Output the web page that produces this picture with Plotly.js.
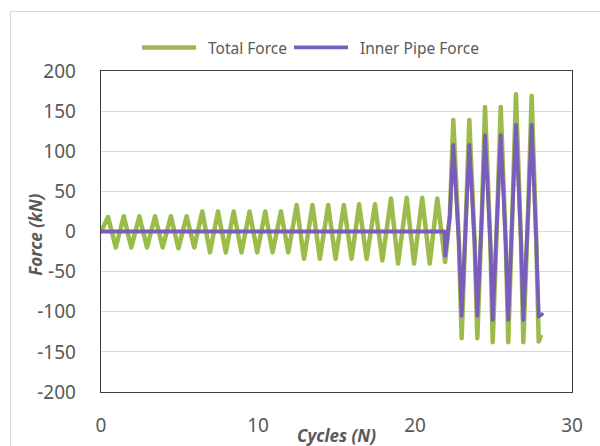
<!DOCTYPE html>
<html>
<head>
<meta charset="utf-8">
<script src="https://cdn.plot.ly/plotly-3.0.1.min.js"></script>
<style>
  html, body { margin: 0; padding: 0; background: #ffffff; overflow: hidden; }
  #chart { position: absolute; left: 0; top: 0; width: 600px; height: 446px; }
  #frame { position: absolute; left: 10px; top: 11px; width: 640px; height: 480px;
           border: 1px solid #d9d9d9; pointer-events: none; }
  /* rounded corners at the turning points of the force traces */
  #chart .scatterlayer path.js-line { stroke-linejoin: round; stroke-linecap: round; }
</style>
</head>
<body>
<div id="chart"></div>
<div id="frame"></div>
<script>
// Cycle positions (N) and force values (kN) for the total force trace
const totalCycles = [
  0, 0.45, 0.94, 1.45, 1.93, 2.44, 2.93, 3.44, 3.93, 4.45, 4.93, 5.45, 5.94,
  6.45, 6.94, 7.45, 7.95, 8.45, 8.95, 9.46, 9.95, 10.46, 10.93, 11.46, 11.93,
  12.46, 12.93, 13.47, 13.94, 14.47, 14.94, 15.47, 15.96, 16.44, 16.92, 17.45, 17.92,
  18.47, 18.92, 19.47, 19.94, 20.46, 20.94, 21.42, 21.92,
  22.22, 22.44, 22.8, 22.97, 23.26, 23.46, 23.8, 23.97, 24.26, 24.46, 24.8, 24.95,
  25.24, 25.46, 25.78, 25.94, 26.2, 26.43, 26.75, 26.9, 27.2, 27.43, 27.72, 27.88, 28.0
];
const totalForce = [
  0, 18, -20, 19, -20, 19, -20, 19, -20, 19, -21, 19, -20,
  25, -26, 25, -26, 25, -26, 25, -26, 25, -26, 25, -26,
  33, -34, 33, -34, 33, -34, 33, -34, 34, -34, 34, -36,
  41, -40, 42, -40, 42, -40, 41, -38,
  20, 139, -15, -133, 22, 139, -15, -133, 22, 155, -15, -138,
  22, 155, -15, -138, 22, 171, -12, -138, 22, 169, -10, -137, -131
];

// Cycle positions (N) and force values (kN) for the inner pipe trace
const innerCycles = [
  0, 21.88, 21.93,
  22.22, 22.44, 22.8, 22.97, 23.26, 23.46, 23.8, 23.97, 24.26, 24.46, 24.8, 24.95,
  25.24, 25.46, 25.78, 25.94, 26.2, 26.43, 26.75, 26.9, 27.2, 27.43, 27.72, 27.88, 28.08
];
const innerForce = [
  0, 0, -30,
  20, 108, -15, -105, 22, 108, -15, -105, 22, 120, -15, -110,
  22, 120, -15, -110, 22, 133, -12, -110, 22, 133, -10, -106, -103
];

const seriesNames = ['Total Force', 'Inner Pipe Force'];
const xTicks = [0, 10, 20, 30];
const yTicks = [-200, -150, -100, -50, 0, 50, 100, 150, 200];

const greenColor = '#9bbb4a';
const purpleColor = '#7a5cba';
const labelColor = '#595959';
const axisTitleFont = { size: 17, color: labelColor, style: 'italic', weight: 'bold' };

const traces = [
  {
    x: totalCycles, y: totalForce, name: seriesNames[0],
    type: 'scatter', mode: 'lines',
    line: { color: greenColor, width: 4.5 }
  },
  {
    x: innerCycles, y: innerForce, name: seriesNames[1],
    type: 'scatter', mode: 'lines',
    line: { color: purpleColor, width: 3.8 }
  }
];

const layout = {
  width: 600, height: 446,
  margin: { l: 101, r: 28, t: 71, b: 54 },
  paper_bgcolor: '#ffffff',
  plot_bgcolor: '#ffffff',
  font: { family: '"Noto Sans", "Open Sans", sans-serif', color: labelColor },
  showlegend: true,
  legend: {
    orientation: 'h', x: 0.448, xanchor: 'center', y: 1.072, yanchor: 'middle',
    font: { size: 15.5, color: labelColor }, itemwidth: 58, tracegroupgap: 0,
    bgcolor: 'rgba(0,0,0,0)'
  },
  xaxis: {
    range: [0, 30], tickmode: 'array', tickvals: xTicks, ticktext: xTicks.map(String),
    showgrid: false, zeroline: false,
    showline: true, mirror: true, linecolor: '#404040', linewidth: 1.3,
    ticks: '', ticklabelstandoff: 16,
    tickfont: { size: 19, color: labelColor },
    automargin: false, fixedrange: true
  },
  yaxis: {
    range: [-200, 200], tickmode: 'array', tickvals: yTicks, ticktext: yTicks.map(String),
    showgrid: true, gridcolor: '#d9d9d9', gridwidth: 1, zeroline: false,
    showline: true, mirror: true, linecolor: '#404040', linewidth: 1.3,
    ticks: '', ticklabelstandoff: 20,
    tickfont: { size: 19, color: labelColor },
    automargin: false, fixedrange: true
  },
  annotations: [
    {
      text: 'Cycles (N)', xref: 'paper', yref: 'paper', x: 0.5, y: -0.134,
      xanchor: 'center', yanchor: 'middle', showarrow: false, font: axisTitleFont
    },
    {
      text: 'Force (kN)', xref: 'paper', yref: 'paper', x: -0.138, y: 0.49,
      xanchor: 'center', yanchor: 'middle', textangle: -90, showarrow: false,
      font: axisTitleFont
    }
  ]
};

Plotly.newPlot('chart', traces, layout, { staticPlot: true, displayModeBar: false })
  .then(function (gd) {
    // stretch the legend line samples across the wider item slot
    gd.querySelectorAll('.legend .legendlines path').forEach(function (p) {
      p.setAttribute('d', 'M2,0h' + (layout.legend.itemwidth - 4));
    });
  });
</script>
</body>
</html>
